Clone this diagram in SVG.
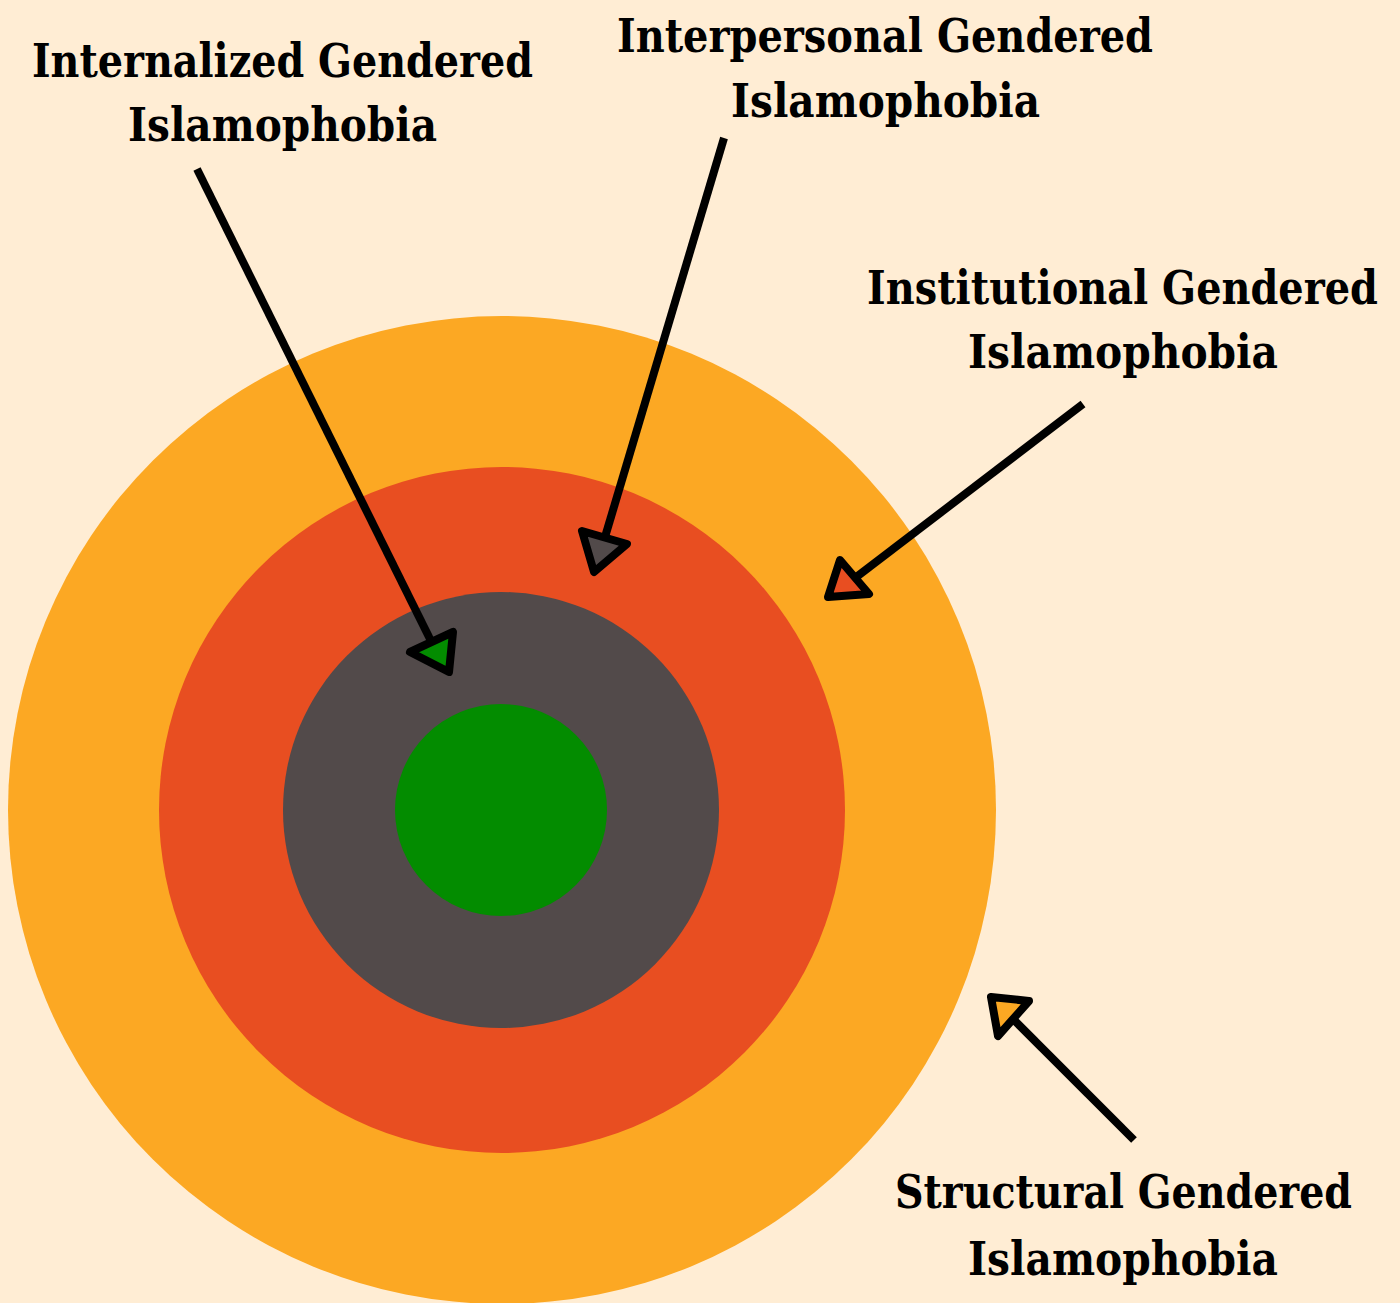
<svg xmlns="http://www.w3.org/2000/svg" width="1400" height="1303" viewBox="0 0 1400 1303">
<style>
.lbl{font-family:"DejaVu Serif","Liberation Serif",serif;font-weight:bold;font-size:47px;fill:#000;text-anchor:middle}
.ln{stroke:#000;stroke-width:8;fill:none}
.hd{stroke:#000;stroke-width:8;stroke-linejoin:round}
</style>
<rect x="0" y="0" width="1400" height="1303" fill="#FFEDD4"/>
<g id="structural"><circle cx="502" cy="810" r="494" fill="#FCA823"/></g>
<g id="institutional"><circle cx="502" cy="810" r="343" fill="#E84E21"/></g>
<g id="interpersonal"><circle cx="501" cy="810" r="218" fill="#524A4A"/></g>
<g id="internalized"><circle cx="501" cy="810" r="106" fill="#038C00"/></g>
<g id="connectors">
<line class="ln" x1="197" y1="169" x2="431" y2="641"/>
<polygon class="hd" points="410,652 453,632 449,672" fill="#038C00"/>
<line class="ln" x1="724" y1="138" x2="605" y2="537"/>
<polygon class="hd" points="582,531 627,544 594,572" fill="#524A4A"/>
<line class="ln" x1="1083" y1="404" x2="855" y2="578"/>
<polygon class="hd" points="840,560 869,594 828,597" fill="#E84E21"/>
<line class="ln" x1="1134" y1="1140" x2="1012" y2="1018"/>
<polygon class="hd" points="991,997 1029,1001 998,1036" fill="#FCA823"/>
</g>
<g id="label-internalized">
<text class="lbl" x="282.5" y="77" textLength="501" lengthAdjust="spacingAndGlyphs">Internalized Gendered</text>
<text class="lbl" x="282.5" y="141" textLength="309" lengthAdjust="spacingAndGlyphs">Islamophobia</text>
</g>
<g id="label-interpersonal">
<text class="lbl" x="885" y="52" textLength="536" lengthAdjust="spacingAndGlyphs">Interpersonal Gendered</text>
<text class="lbl" x="885.5" y="117" textLength="309" lengthAdjust="spacingAndGlyphs">Islamophobia</text>
</g>
<g id="label-institutional">
<text class="lbl" transform="translate(1122.5,304) scale(0.85,1)" x="0" y="0" textLength="601" lengthAdjust="spacingAndGlyphs">Institutional Gendered</text>
<text class="lbl" x="1123" y="368" textLength="310" lengthAdjust="spacingAndGlyphs">Islamophobia</text>
</g>
<g id="label-structural">
<text class="lbl" transform="translate(1123.5,1208) scale(0.85,1)" x="0" y="0" textLength="537.6" lengthAdjust="spacingAndGlyphs">Structural Gendered</text>
<text class="lbl" x="1123" y="1275" textLength="310" lengthAdjust="spacingAndGlyphs">Islamophobia</text>
</g>
</svg>
